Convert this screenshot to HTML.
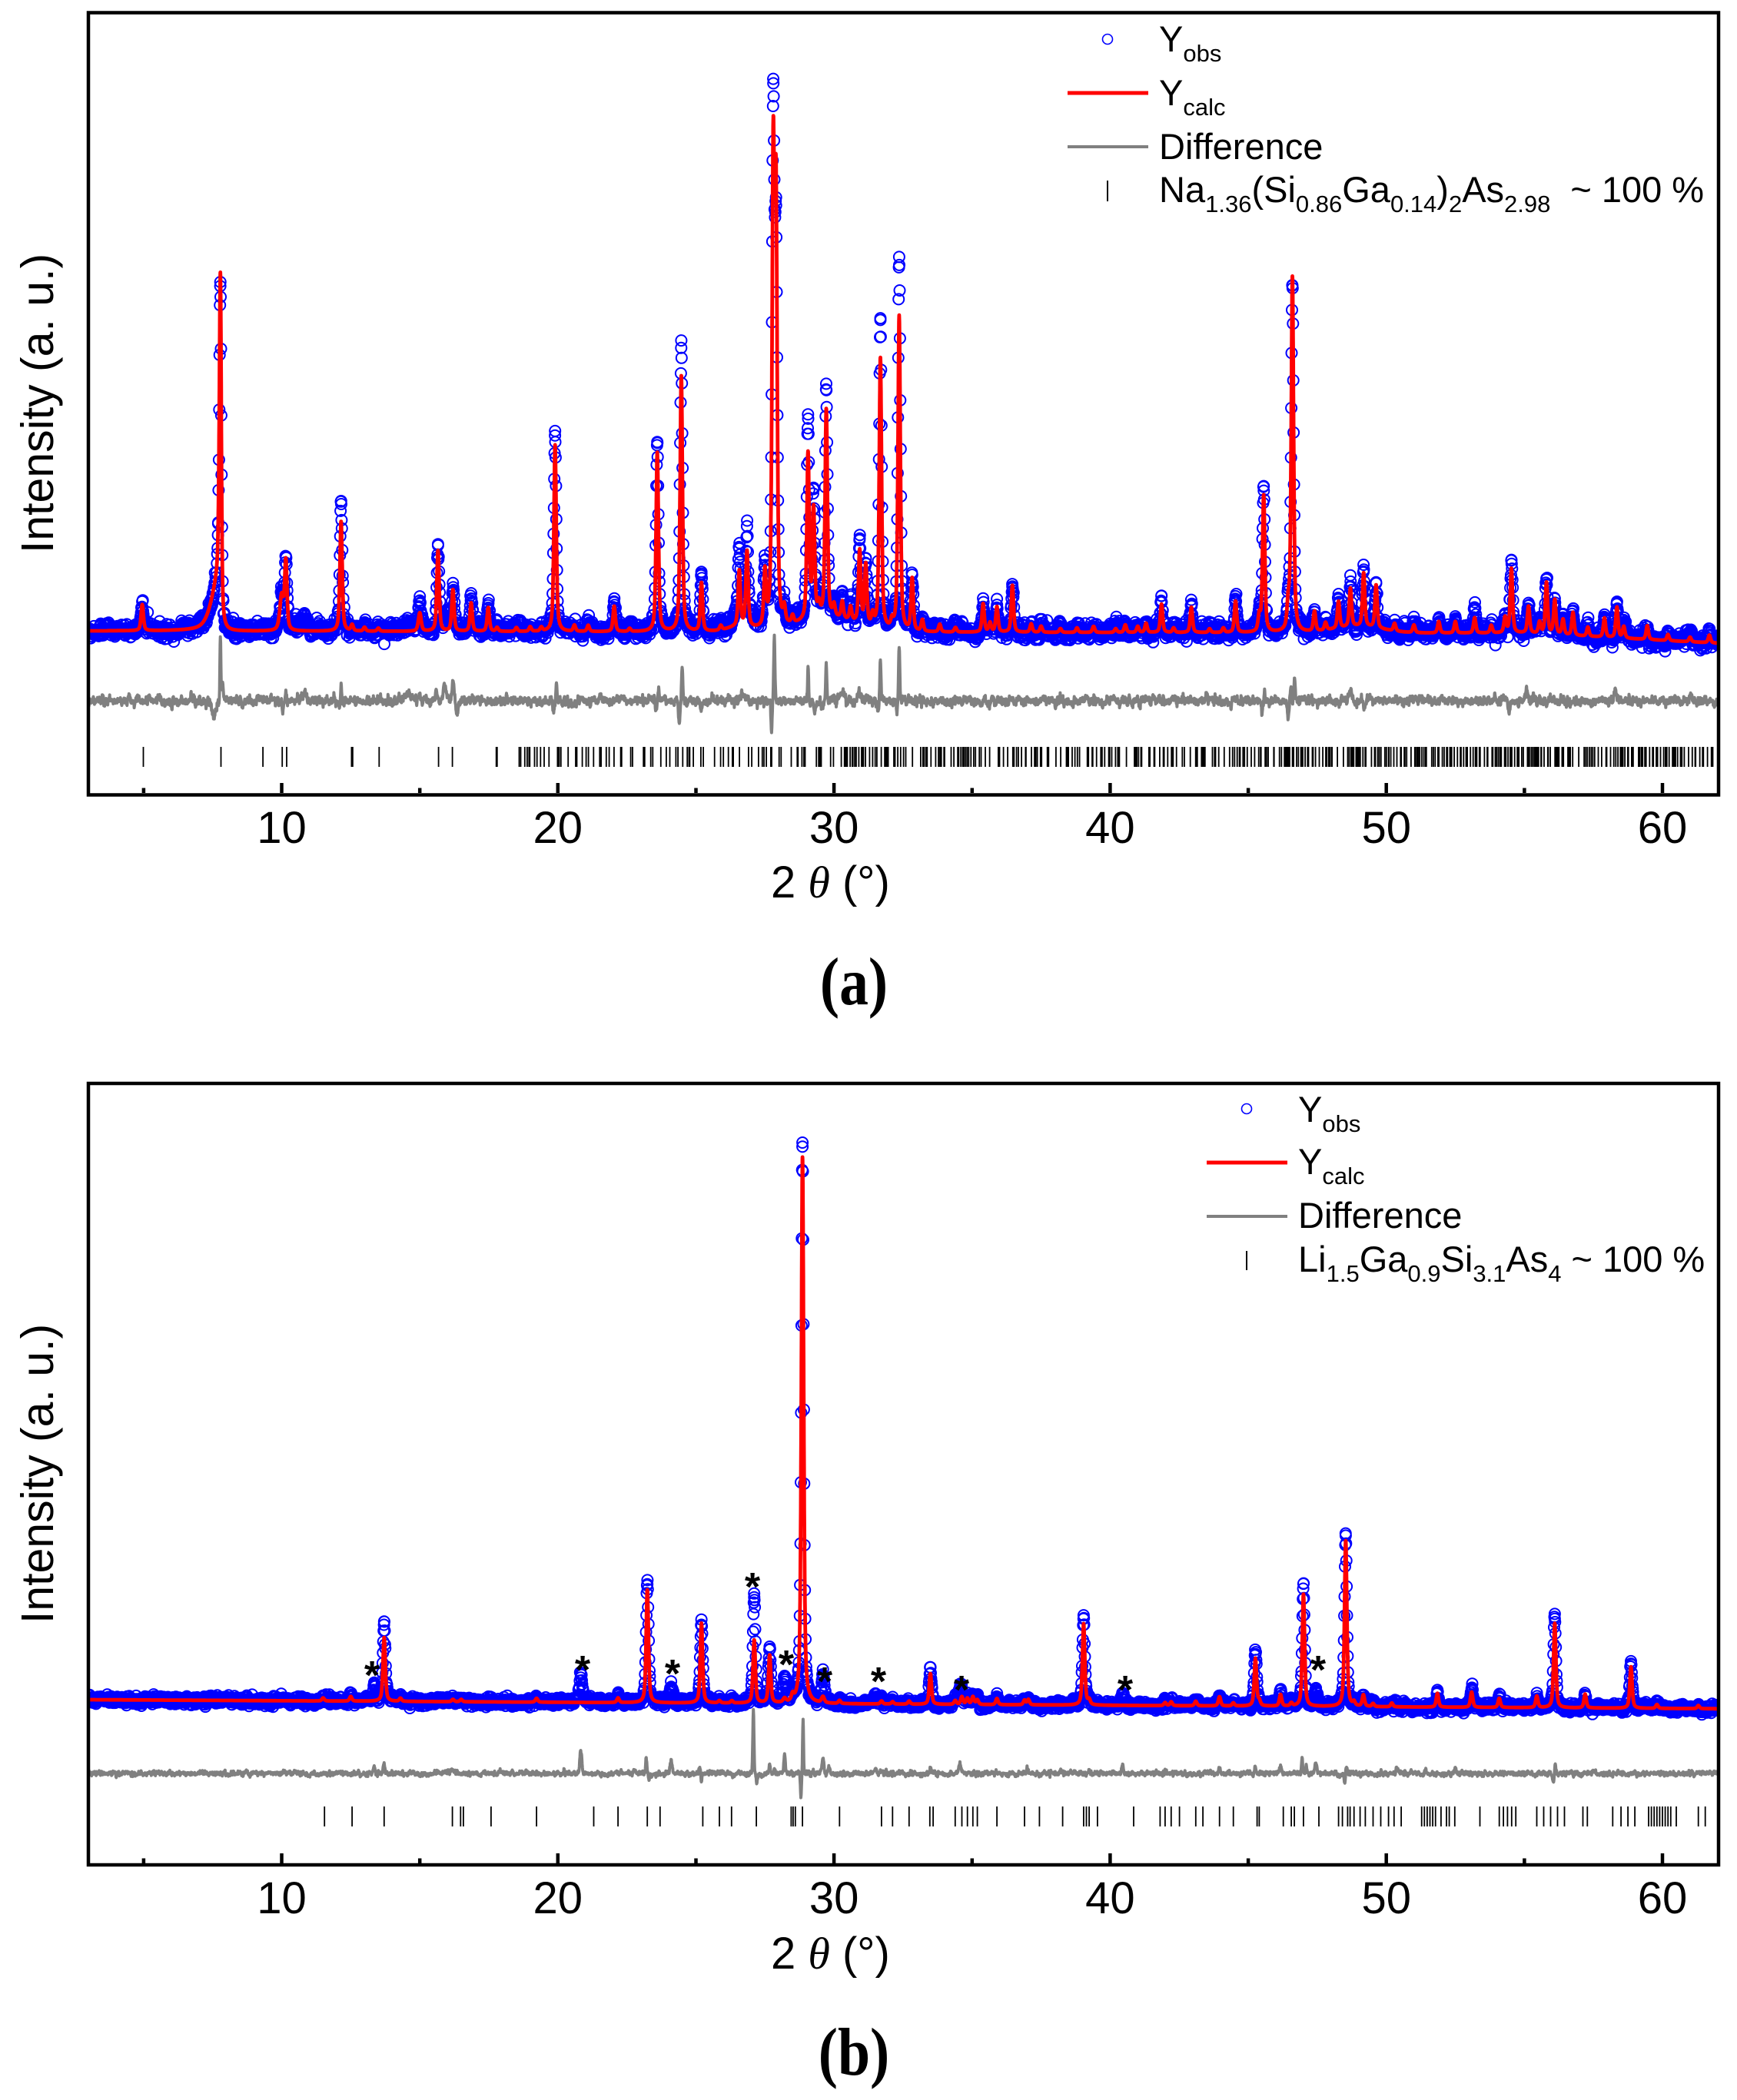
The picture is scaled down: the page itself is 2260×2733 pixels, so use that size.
<!DOCTYPE html>
<html><head><meta charset="utf-8"><style>
html,body{margin:0;padding:0;background:#fff;}
svg{display:block;}
text{font-family:"Liberation Sans",Arial,sans-serif;fill:#000;}
</style></head><body>
<svg id="svg" xmlns="http://www.w3.org/2000/svg" width="2260" height="2733" viewBox="0 0 2260 2733">
<defs>
<clipPath id="ca"><rect x="117" y="19" width="2117" height="1013"/></clipPath>
<clipPath id="cb"><rect x="117" y="1412" width="2117" height="1013"/></clipPath>
</defs>
<rect x="0" y="0" width="2260" height="2733" fill="#fff"/>
<g id="ga" clip-path="url(#ca)"></g>
<g id="gb" clip-path="url(#cb)"></g>

<!-- Panel A frame -->
<rect x="115" y="16.5" width="2121" height="1018" fill="none" stroke="#000" stroke-width="4.5"/>
<g id="ticka" stroke="#000" stroke-width="4.5"></g>
<g font-size="58" text-anchor="middle">
<text x="366.5" y="1097">10</text><text x="725.8" y="1097">20</text><text x="1085.1" y="1097">30</text>
<text x="1444.4" y="1097">40</text><text x="1803.7" y="1097">50</text><text x="2163" y="1097">60</text>
</g>
<text x="1003" y="1168" font-size="58">2 <tspan font-family="Liberation Serif" font-style="italic">θ</tspan> (°)</text>
<text transform="translate(69,525) rotate(-90)" text-anchor="middle" font-size="59">Intensity (a. u.)</text>
<text transform="translate(1111,1307) scale(0.86,1)" text-anchor="middle" font-weight="bold" font-size="88" style="font-family:'Liberation Serif',serif">(a)</text>

<!-- Legend A -->
<circle cx="1441" cy="51" r="6.5" fill="none" stroke="#0000ff" stroke-width="1.6"/>
<line x1="1389" y1="121" x2="1494" y2="121" stroke="#ff0000" stroke-width="5"/>
<line x1="1389" y1="191" x2="1494" y2="191" stroke="#808080" stroke-width="4"/>
<line x1="1441" y1="235" x2="1441" y2="262" stroke="#000" stroke-width="2"/>
<g font-size="47">
<text x="1508" y="67">Y<tspan font-size="31" dy="13">obs</tspan></text>
<text x="1508" y="137">Y<tspan font-size="31" dy="13">calc</tspan></text>
<text x="1508" y="207">Difference</text>
<text x="1508" y="263">Na<tspan font-size="31" dy="13">1.36</tspan><tspan dy="-13">(Si</tspan><tspan font-size="31" dy="13">0.86</tspan><tspan dy="-13">Ga</tspan><tspan font-size="31" dy="13">0.14</tspan><tspan dy="-13">)</tspan><tspan font-size="31" dy="13">2</tspan><tspan dy="-13">As</tspan><tspan font-size="31" dy="13">2.98</tspan><tspan dy="-13" dx="26">~</tspan><tspan dx="13">100</tspan><tspan dx="13">%</tspan></text>
</g>

<!-- Panel B frame -->
<rect x="115" y="1410" width="2121" height="1017" fill="none" stroke="#000" stroke-width="4.5"/>
<g id="tickb" stroke="#000" stroke-width="4.5"></g>
<g font-size="58" text-anchor="middle">
<text x="366.5" y="2490">10</text><text x="725.8" y="2490">20</text><text x="1085.1" y="2490">30</text>
<text x="1444.4" y="2490">40</text><text x="1803.7" y="2490">50</text><text x="2163" y="2490">60</text>
</g>
<text x="1003" y="2562" font-size="58">2 <tspan font-family="Liberation Serif" font-style="italic">θ</tspan> (°)</text>
<text transform="translate(69,1918) rotate(-90)" text-anchor="middle" font-size="59">Intensity (a. u.)</text>
<text transform="translate(1111,2700) scale(0.86,1)" text-anchor="middle" font-weight="bold" font-size="88" style="font-family:'Liberation Serif',serif">(b)</text>

<!-- Legend B -->
<circle cx="1622" cy="1443" r="6.5" fill="none" stroke="#0000ff" stroke-width="1.6"/>
<line x1="1570" y1="1513" x2="1675" y2="1513" stroke="#ff0000" stroke-width="5"/>
<line x1="1570" y1="1583" x2="1675" y2="1583" stroke="#808080" stroke-width="4"/>
<line x1="1622" y1="1628" x2="1622" y2="1653" stroke="#000" stroke-width="2"/>
<g font-size="47">
<text x="1689" y="1460">Y<tspan font-size="31" dy="13">obs</tspan></text>
<text x="1689" y="1528">Y<tspan font-size="31" dy="13">calc</tspan></text>
<text x="1689" y="1598">Difference</text>
<text x="1689" y="1655">Li<tspan font-size="31" dy="13">1.5</tspan><tspan dy="-13">Ga</tspan><tspan font-size="31" dy="13">0.9</tspan><tspan dy="-13">Si</tspan><tspan font-size="31" dy="13">3.1</tspan><tspan dy="-13">As</tspan><tspan font-size="31" dy="13">4</tspan><tspan dy="-13" dx="13">~</tspan><tspan dx="13">100</tspan><tspan dx="13">%</tspan></text>
</g>

<!-- Stars panel B -->
<g font-size="52" font-weight="bold" text-anchor="middle">
<text x="484" y="2198">*</text><text x="758" y="2191">*</text><text x="875" y="2196">*</text>
<text x="979" y="2083">*</text><text x="1023" y="2184">*</text><text x="1073" y="2206">*</text>
<text x="1143" y="2206">*</text><text x="1251" y="2217">*</text><text x="1464" y="2217">*</text>
<text x="1715" y="2191">*</text>
</g>
</svg>
<script>
(function(){
var NS='http://www.w3.org/2000/svg';
function X(t){return 115+(t-3)*35.93;}
function R(s){s=s>>>0;return function(){s=(Math.imul(s,1664525)+1013904223)>>>0;return s/4294967296;};}
function G(r){var u=r();if(u<1e-9)u=1e-9;return Math.sqrt(-2*Math.log(u))*Math.cos(6.2831853*r());}
function pv(d,w){var q=d/w,q2=q*q;return 0.55/(1+q2)+0.45*Math.exp(-0.693*q2);}
function prof(t,P,k){var s=0;for(var i=0;i<P.length;i++){var p=P[i];var d=t-p[0];if(d>4||d<-4)continue;var w=d<0?(p[3]||0.05):(p[4]||p[3]||0.05);s+=p[k]*pv(d,w);}return s;}
function spk(t,S){var s=0;for(var i=0;i<S.length;i++){var q=S[i];var d=(t-q[0])/q[2];var d2=d*d;if(d2<30)s+=q[1]*Math.exp(-d2);}return s;}
function add(g,tag,a){var e=document.createElementNS(NS,tag);for(var k in a)e.setAttribute(k,a[k]);g.appendChild(e);return e;}

var PA=[
[4.95,34,38],[7.78,453,446,0.045,0.04],[7.70,60,58,0.3,0.05],
[10.0,45,48,0.08],[10.15,88,92],[10.8,0,14,0.15],[11.3,0,8,0.1],
[12.15,143,166],[12.55,8,10],[13.0,5,9],[13.5,4,6],[14.6,0,10,0.15],
[15.0,24,41,0.06],[15.66,105,105],[16.0,0,20,0.1],[16.2,54,56],[16.86,37,43],[17.48,31,33],[17.8,5,6],
[18.5,5,5],[19.0,6,6],[19.4,5,5],[19.9,243,259],[20.6,8,8],[21.1,8,9],[22.04,33,35],[22.6,4,8],
[23.6,233,246],[24.47,333,375],[25.2,63,70],[25.9,6,8],[26.57,72,80],[26.85,98,107],[26.7,0,25,0.25],
[27.5,70,74],[27.80,590,650],[27.90,530,460],[28.2,20,24],[28.5,10,12],
[29.06,215,257],[29.26,140,157],[29.45,15,20],[29.72,270,296],[30.0,15,20],[30.3,22,27],[30.6,18,23],
[30.93,95,109],[31.15,78,83],[31.4,15,17],[31.68,352,403],[32.1,10,13],[32.36,410,478],[32.83,68,73],
[33.2,15,17],[33.83,10,12],[34.4,6,8],[35.4,37,40],[35.65,12,14],[35.9,33,35],[36.46,61,63],
[37.14,11,13],[37.5,8,9],[38.2,5,6],[38.8,6,8],[39.4,8,9],[40.2,5,6],[40.55,10,12],[41.0,8,10],[41.3,12,14],
[41.86,37,40],[42.3,6,7],[42.94,33,38],[43.6,5,6],[44.1,6,6],[44.54,41,43],[45.4,20,22],[45.56,178,184],
[46.45,30,32],[46.6,462,453],[47.4,26,28],[47.8,10,10],[48.27,35,38],[48.7,50,55],[49.18,70,73],[49.63,56,58],
[50.3,10,12],[51.0,10,12],[51.9,15,18],[52.5,15,16],[53.2,20,32],[53.8,10,10],[54.3,20,22],[54.53,84,91],
[55.15,35,38],[55.55,15,16],[55.8,67,72],[56.1,45,48],[56.4,20,22],[56.76,30,33],[57.3,12,14],[57.9,25,28],
[58.35,40,48],[58.6,15,16],[59.45,18,20],[60.2,8,9],[61.0,6,6],[61.7,10,12]
];
var DA=[
[7.55,20,0.12],[7.78,-80,0.025],[7.86,-28,0.04],[10.05,10,0.05],[10.15,-14,0.03],[10.8,-10,0.12],
[12.15,-25,0.03],[12.1,8,0.05],[14.6,-9,0.15],[15.0,-12,0.05],[15.6,-12,0.04],[15.9,-22,0.08],[16.2,-28,0.05],[16.35,14,0.05],
[19.85,12,0.04],[19.95,-18,0.03],[23.55,12,0.03],[23.65,-18,0.03],[24.4,30,0.04],[24.5,-48,0.03],[25.2,14,0.04],
[26.7,-8,0.15],[27.74,36,0.03],[27.84,-78,0.03],[29.06,-45,0.03],[29.3,14,0.05],[29.6,12,0.04],[29.72,-48,0.03],
[30.3,-12,0.08],[30.9,-14,0.06],[31.6,14,0.04],[31.68,-55,0.03],[32.28,14,0.04],[32.36,-70,0.03],
[45.5,18,0.04],[45.6,-14,0.03],[46.45,20,0.04],[46.55,-20,0.03],[46.68,-28,0.03],[48.7,-8,0.08],[49.2,8,0.06],
[54.45,14,0.05],[55.1,-12,0.05],[55.8,8,0.05],[58.3,-12,0.05]
];
var PB=[
[11.5,4,5],[12.5,6,7],[13.35,0,22],[13.71,83,101],[14.3,4,5],[16.2,3,5],[16.5,3,4],[19.23,5,6],
[20.83,0,36,0.06],[22.18,6,7],[23.24,147,158],[24.1,0,23,0.07],[25.2,104,107],[25.85,3,4],[26.3,3,4],
[27.11,82,139],[27.67,62,71],[28.21,5,32,0.06],[28.5,8,10],[28.86,711,728],[29.6,8,39,0.06],[30.2,4,5],
[31.5,0,14,0.08],[31.72,4,5],[32.12,3,4],[32.72,4,5],[33.49,40,45],[34.39,5,6],[34.55,0,18,0.07],
[34.63,10,12],[34.83,8,9],[35.03,10,11],[35.19,6,7],[35.9,8,10],[36.9,6,7],[37.04,7,8],
[39.04,106,113],[39.24,6,7],[40.45,0,15,0.06],[41.99,4,5],[42.21,5,6],[43.1,6,7],[43.96,12,14],[44.46,4,5],
[45.26,62,75],[45.4,6,7],[46.17,15,20],[46.56,4,5],[47.0,146,159],[47.45,0,20,0.07],[48.53,216,224],
[48.83,5,6],[49.17,15,16],[49.52,4,5],[50.2,5,6],[51.85,18,20],[53.09,20,24],[54.09,12,13],[55.45,15,17],
[56.1,110,122],[57.2,18,19],[58.86,54,59],[59.8,5,6],[61.3,4,5]
];
var DB=[
[13.35,-10,0.04],[13.71,-12,0.03],[16.2,-5,0.08],[20.83,-30,0.05],[23.2,-20,0.03],[23.3,10,0.03],[24.1,-18,0.05],
[25.2,12,0.03],[25.15,-6,0.03],[27.08,-83,0.03],[27.2,10,0.04],[27.67,-12,0.03],[27.85,-6,0.03],[28.21,-22,0.04],
[28.8,34,0.025],[28.88,-70,0.025],[29.6,-18,0.05],[29.8,-6,0.05],[31.5,-8,0.06],[33.5,-8,0.04],[34.55,-14,0.05],
[37.0,-6,0.05],[40.45,-10,0.05],[43.96,-8,0.04],[45.26,-10,0.04],[46.17,-12,0.05],[46.95,-20,0.03],[47.1,-10,0.03],
[47.45,-15,0.05],[48.5,12,0.03],[48.56,-8,0.03],[50.4,-6,0.06],[52.5,-5,0.06],[56.05,12,0.03],[56.12,-14,0.03]
];
var TB=[11.55,12.55,13.71,16.18,16.48,16.58,17.58,19.23,21.3,22.18,23.24,23.7,25.25,25.85,26.29,27.19,28.45,28.52,28.6,28.86,30.2,31.72,32.12,32.72,33.47,33.59,34.39,34.63,34.83,35.03,35.19,35.9,36.9,37.44,38.28,39.04,39.14,39.24,39.54,40.85,41.81,41.99,42.21,42.51,43.1,43.36,43.96,44.46,45.32,45.4,46.27,46.56,46.67,47.0,47.56,48.27,48.41,48.6,48.69,48.83,49.05,49.24,49.52,49.8,50.08,50.28,50.54,51.28,51.38,51.48,51.58,51.68,51.78,51.98,52.18,52.28,52.48,53.39,54.09,54.24,54.39,54.54,54.69,55.45,55.7,55.95,56.2,56.45,57.12,57.28,58.2,58.5,58.75,59.0,59.5,59.6,59.7,59.8,59.9,60.0,60.1,60.2,60.3,60.5,61.3,61.55];
function genTA(){var r=R(77);var a=[4.99,7.80,9.32,10.02,10.18,12.53,12.57,13.53,15.68,16.18,17.77,17.80];var t=18.6;
 while(t<61.95){a.push(t);var m=t<30?0.17:(t<45?0.12:0.085);t+=m*(0.15+2.55*r()*r());}return a;}

function panel(c){
 var g=document.getElementById(c.id);var r=R(c.seed);
 var ts=[],t,i;
 for(t=3.0;t<=62.05;t+=0.012)ts.push(t);
 for(i=0;i<c.P.length;i++){if(c.P[i][2]>15)ts.push(c.P[i][0]);}
 var d=[];var wander=0;
 for(i=0;i<ts.length;i++){t=ts[i];wander=0.9*wander+G(r)*c.sw;
  var y=c.base(t)-prof(t,c.P,2)+G(r)*c.sn+wander;var x=X(t);
  d.push('M'+(x-7).toFixed(1)+','+y.toFixed(1)+'a7,7 0 1,0 14,0a7,7 0 1,0 -14,0');}
 add(g,'path',{d:d.join(''),fill:'none',stroke:'#0000ff','stroke-width':2});
 var pts=[];
 for(t=3.0;t<=62.05;t+=0.004){pts.push(X(t).toFixed(1)+','+(c.base(t)-prof(t,c.P,1)).toFixed(1));}
 add(g,'polyline',{points:pts.join(' '),fill:'none',stroke:'#ff0000','stroke-width':4.8,'stroke-linejoin':'round'});
 var dp=[];var n=0;
 for(t=3.0;t<=62.05;t+=0.01){n=0.6*n+G(r)*c.sd;dp.push(X(t).toFixed(1)+','+(c.db+n+spk(t,c.S)).toFixed(1));}
 add(g,'polyline',{points:dp.join(' '),fill:'none',stroke:'#808080','stroke-width':4,'stroke-linejoin':'round'});
 var tp='';
 for(i=0;i<c.T.length;i++){var xx=X(c.T[i]).toFixed(1);tp+='M'+xx+','+c.t1+'V'+c.t2;}
 add(g,'path',{d:tp,fill:'none',stroke:'#000','stroke-width':1.8});
 var tg=document.getElementById(c.tick);var s='';
 for(var k=5;k<=60;k+=5){var L=(k%10===0)?13:6.5;var xk=X(k).toFixed(1);s+='M'+xk+','+c.axis+'v'+(-L);}
 add(tg,'path',{d:s,fill:'none'});
}
panel({id:'ga',tick:'ticka',seed:12345,P:PA,S:DA,T:genTA(),
 base:function(t){return 821+(t-3)*0.06+(t>55?(t-55)*1.8:0)-8*Math.exp(-Math.pow((t-49)/1.2,2))-18*Math.exp(-Math.pow((t-29.8)/1.4,2))-6*Math.exp(-Math.pow((t-26.6)/0.6,2));},
 sn:4.5,sw:1.0,db:912,sd:2.6,t1:972,t2:998,axis:1032});
panel({id:'gb',tick:'tickb',seed:98765,P:PB,S:DB,T:TB,
 base:function(t){return 2212+(t-3)*0.2;},
 sn:2.5,sw:0.5,db:2308,sd:1.4,t1:2351,t2:2377,axis:2425});
})();
</script>
</body></html>
